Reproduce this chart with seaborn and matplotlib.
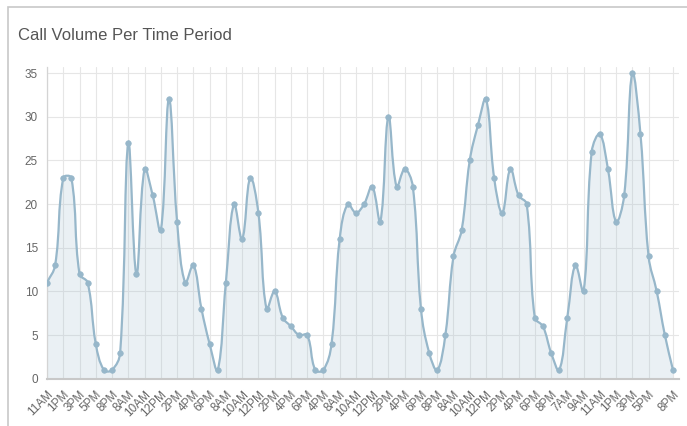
#!/usr/bin/env python3

import matplotlib

matplotlib.use("Agg")

import matplotlib.pyplot as plt
import numpy as np
import pandas as pd
import seaborn as sns
from matplotlib.patches import PathPatch, Rectangle
from matplotlib.path import Path

# time period labels (every point), and the call count per period
labels = [
    "11AM", "12PM", "1PM", "2PM", "3PM", "4PM", "5PM", "6PM", "8PM", "7AM",
    "8AM", "9AM", "10AM", "11AM", "12PM", "1PM", "2PM", "3PM", "4PM", "5PM",
    "6PM", "7AM", "8AM", "9AM", "10AM", "11AM", "12PM", "1PM", "2PM", "3PM",
    "4PM", "5PM", "6PM", "8PM", "4PM", "7AM", "8AM", "9AM", "10AM", "11AM",
    "12PM", "1PM", "2PM", "3PM", "4PM", "5PM", "6PM", "7PM", "8PM", "7AM",
    "8AM", "9AM", "10AM", "11AM", "12PM", "1PM", "2PM", "3PM", "4PM", "5PM",
    "6PM", "7PM", "8PM", "6AM", "7AM", "8AM", "9AM", "10AM", "11AM", "12PM",
    "1PM", "2PM", "3PM", "4PM", "5PM", "6PM", "7PM", "8PM",
]

calls = [
    11, 13, 23, 23, 12, 11, 4, 1, 1, 3,
    27, 12, 24, 21, 17, 32, 18, 11, 13, 8,
    4, 1, 11, 20, 16, 23, 19, 8, 10, 7,
    6, 5, 5, 1, 1, 4, 16, 20, 19, 20,
    22, 18, 30, 22, 24, 22, 8, 3, 1, 5,
    14, 17, 25, 29, 32, 23, 19, 24, 21, 20,
    7, 6, 3, 1, 7, 13, 10, 26, 28, 24,
    18, 21, 35, 28, 14, 10, 5, 1,
]

y_ticks = [0, 5, 10, 15, 20, 25, 30, 35]

LINE = "#97b7ca"
GRID = "#e6e6e6"
TEXT = "#666666"


def spline_path(ax, xs, ys, tension=0.4):
    # chart.js style bezier through the points, computed in pixel space
    pts = ax.transData.transform(np.column_stack([xs, ys]))
    (y_lo, y_hi) = sorted(ax.transData.transform([(0, ax.get_ylim()[0]), (0, ax.get_ylim()[1])])[:, 1])
    n = len(pts)
    cp_prev = np.zeros_like(pts)
    cp_next = np.zeros_like(pts)
    for i in range(n):
        prev = pts[max(i - 1, 0)]
        cur = pts[i]
        nxt = pts[min(i + 1, n - 1)]
        d01 = np.hypot(*(cur - prev))
        d12 = np.hypot(*(nxt - cur))
        total = d01 + d12
        s01 = d01 / total if total else 0
        s12 = d12 / total if total else 0
        cp_prev[i] = cur - tension * s01 * (nxt - prev)
        cp_next[i] = cur + tension * s12 * (nxt - prev)
    cp_prev[:, 1] = cp_prev[:, 1].clip(y_lo, y_hi)
    cp_next[:, 1] = cp_next[:, 1].clip(y_lo, y_hi)

    verts = [pts[0]]
    codes = [Path.MOVETO]
    for i in range(1, n):
        verts += [cp_next[i - 1], cp_prev[i], pts[i]]
        codes += [Path.CURVE4] * 3
    verts = ax.transData.inverted().transform(np.array(verts))
    return verts, codes


def main():
    sns.set_theme(style="white")
    plt.rcParams["font.family"] = ["Liberation Sans", "DejaVu Sans"]

    df = pd.DataFrame({"idx": np.arange(len(calls)), "label": labels, "calls": calls})

    fig = plt.figure(figsize=(6.87, 4.26), dpi=100)
    ax = fig.add_axes([47 / 687, 47.3 / 426, 632 / 687, 311.7 / 426])
    ax.set_xlim(0, 77.74)
    ax.set_ylim(0, 35.7)

    # x ticks as chart.js autoskip leaves them: every 2nd, plus the last one
    n = len(df)
    shown = [i for i in range(0, n, 2) if i + 2 < n] + [n - 1]
    ax.set_xticks(shown)
    ax.set_xticklabels([labels[i] for i in shown], rotation=45, ha="right", rotation_mode="anchor")
    ax.set_yticks(y_ticks)
    ax.set_yticklabels([str(v) for v in y_ticks])

    ax.grid(True, color=GRID, linewidth=0.8)
    ax.set_axisbelow(True)
    for side in ["top", "right"]:
        ax.spines[side].set_visible(False)
    ax.spines["bottom"].set_color("#c8c8c8")
    ax.spines["bottom"].set_linewidth(1.5)
    ax.spines["left"].set_color("#d4d4d4")
    ax.spines["left"].set_linewidth(0.9)

    ax.tick_params(axis="x", length=4, color=GRID, width=0.8, labelsize=8.5, labelcolor=TEXT, pad=3)
    ax.tick_params(axis="y", length=5.5, color="#dddddd", width=0.8, labelsize=8.5, labelcolor=TEXT, pad=1)

    (verts, codes) = spline_path(ax, df.idx.values, df.calls.values)

    fill_verts = np.vstack([verts, [[df.idx.iloc[-1], 0], [df.idx.iloc[0], 0], [df.idx.iloc[0], 0]]])
    fill_codes = codes + [Path.LINETO, Path.LINETO, Path.CLOSEPOLY]
    ax.add_patch(PathPatch(Path(fill_verts, fill_codes), facecolor=LINE, alpha=0.2, edgecolor="none", zorder=2))
    ax.add_patch(PathPatch(Path(verts, codes), facecolor="none", edgecolor=LINE, linewidth=1.6, zorder=3))

    sns.scatterplot(data=df, x="idx", y="calls", color=LINE, s=16, edgecolor=LINE, linewidth=0.5, zorder=4, ax=ax)
    ax.set_xlabel("")
    ax.set_ylabel("")

    fig.text(18 / 687, (426 - 40) / 426, "Call Volume Per Time Period", fontsize=12, color="#555555", va="baseline")

    fig.patches.append(
        Rectangle(
            (7.5 / 687, -0.1),
            2,
            (426 - 6.5) / 426 + 0.1,
            transform=fig.transFigure,
            fill=False,
            edgecolor="#c8c8c8",
            linewidth=1.2,
        ),
    )

    plt.savefig("out.png", dpi=100)
    plt.close()


if __name__ == "__main__":
    main()
